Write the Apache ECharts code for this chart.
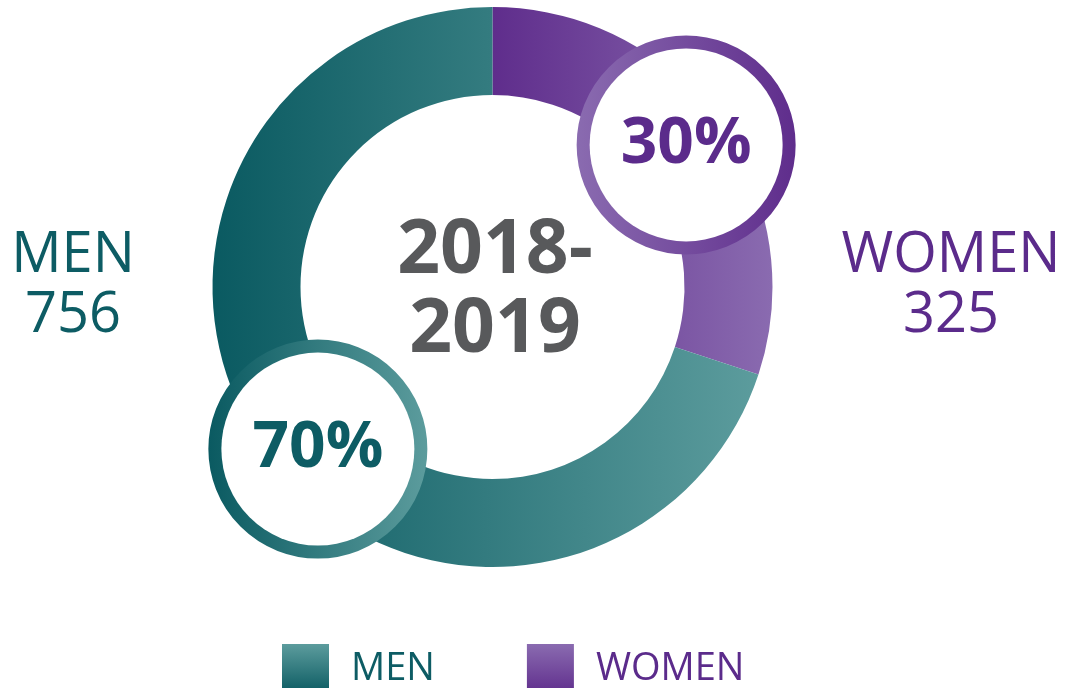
<!DOCTYPE html>
<html>
<head>
<meta charset="utf-8">
<script src="https://cdn.jsdelivr.net/npm/echarts@6/dist/echarts.min.js"></script>
<style>
  html, body { margin: 0; padding: 0; background: #fff; }
  #chart { width: 1066px; height: 688px; }
</style>
</head>
<body>
<div id="chart"></div>
<script>
// data
const categories = ['WOMEN', 'MEN'];
const counts = [325, 756];
const legendOrder = ['MEN', 'WOMEN'];
const yearLines = ['2018-', '2019'];

const FONT = '"Open Sans", "DejaVu Sans", sans-serif';
const teal = { dark: '#0a5a61', light: '#5c9c9d', text: '#0d5c64' };
const purple = { dark: '#5f2d8c', light: '#8a6bb0', text: '#5b2b8b' };
const palette = { MEN: teal, WOMEN: purple };
// the badge circles are nudged a little off the slice's mid angle, as in the picture
const badgeOffset = { MEN: [19, 22], WOMEN: [0, -2] };

function hGrad(a, b) {
  return new echarts.graphic.LinearGradient(0, 0, 1, 0, [
    { offset: 0, color: a }, { offset: 1, color: b }
  ]);
}
function vGrad(a, b) {
  return new echarts.graphic.LinearGradient(0, 0, 0, 1, [
    { offset: 0, color: a }, { offset: 1, color: b }
  ]);
}

const total = counts.reduce((s, v) => s + v, 0);

const pieData = categories.map((name, i) => {
  const c = palette[name];
  // circle border: women light on left, men dark on left
  const border = name === 'MEN' ? hGrad(c.dark, c.light) : hGrad(c.light, c.dark);
  return {
    name: name,
    value: counts[i],
    itemStyle: { color: hGrad(c.dark, c.light) },
    label: {
      color: c.text,
      borderColor: border,
      offset: badgeOffset[name]
    }
  };
});

let chart = echarts.init(document.getElementById('chart'));
let option = {
  animation: false,
  legend: {
    left: 277,
    top: 639,
    itemWidth: 47,
    itemHeight: 50,
    itemGap: 92,
    icon: 'rect',
    selectedMode: false,
    data: legendOrder.map(name => ({
      name: name,
      itemStyle: { color: vGrad(palette[name].light, palette[name].dark) },
      textStyle: { color: palette[name].text }
    })),
    textStyle: {
      fontFamily: FONT,
      fontSize: 38,
      padding: [0, 0, 0, 17]
    }
  },
  graphic: [
    {
      type: 'text',
      x: 73,
      y: 226,
      silent: true,
      style: {
        text: legendOrder[0] + '\n' + counts[categories.indexOf(legendOrder[0])],
        fill: teal.text,
        font: '56px ' + FONT,
        lineHeight: 60,
        align: 'center',
        verticalAlign: 'top'
      }
    },
    {
      type: 'text',
      x: 951,
      y: 226,
      silent: true,
      style: {
        text: legendOrder[1] + '\n' + counts[categories.indexOf(legendOrder[1])],
        fill: purple.text,
        font: '56px ' + FONT,
        lineHeight: 60,
        align: 'center',
        verticalAlign: 'top'
      }
    },
    {
      type: 'text',
      x: 495,
      y: 212,
      silent: true,
      style: {
        text: yearLines.join('\n'),
        fill: '#58595b',
        font: 'bold 75px ' + FONT,
        lineHeight: 79,
        align: 'center',
        verticalAlign: 'top'
      }
    }
  ],
  series: [
    {
      type: 'pie',
      center: [492.5, 287],
      radius: [192, 280],
      startAngle: 90,
      clockwise: true,
      silent: true,
      emphasis: { disabled: true },
      labelLine: { show: false },
      label: {
        show: true,
        position: 'inside',
        formatter: p => Math.round(p.value / total * 100) + '%',
        fontFamily: FONT,
        fontWeight: 'bold',
        fontSize: 64,
        width: 193,
        height: 193,
        lineHeight: 193,
        align: 'center',
        verticalAlign: 'middle',
        backgroundColor: '#fff',
        borderWidth: 13,
        borderRadius: 100
      },
      data: pieData
    }
  ]
};
chart.setOption(option);
</script>
</body>
</html>
